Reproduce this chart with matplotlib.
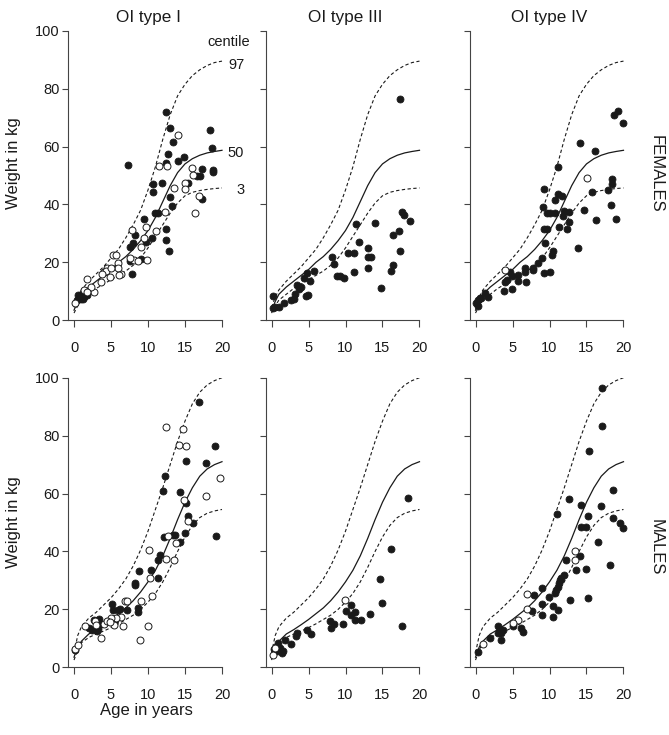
import matplotlib
matplotlib.use('Agg')
import matplotlib.pyplot as plt
import numpy as np

plt.rcParams['font.family'] = ['Liberation Sans', 'DejaVu Sans']

# reference centiles (age in years -> weight in kg)
cent_age = [0, 0.5, 1, 2, 3, 4, 5, 6, 7, 8, 9, 10, 11, 12, 13, 14, 15, 16, 17, 18, 19, 20]
fem_p3 = [2.5, 5, 7, 9, 11, 12.5, 14, 15.5, 17, 19, 21.5, 25, 29, 33, 37, 40.5, 43, 44.2, 44.8, 45.2, 45.5, 45.7]
fem_p50 = [3.5, 6.5, 9, 11.5, 13.5, 15.5, 17.5, 20, 22, 24.5, 27.5, 31, 35.5, 41, 46.5, 51, 54, 55.8, 57, 57.8, 58.3, 58.7]
fem_p97 = [4.5, 8, 10.5, 13.5, 16, 18.5, 21.5, 24.5, 28.5, 33, 38, 45, 53, 62.5, 71, 77.5, 81.5, 84.5, 86.5, 88, 89, 89.5]
male_p3 = [2.5, 6, 8.5, 10.3, 11.5, 12.5, 13.7, 15, 16.5, 18, 20, 22.5, 25.5, 29.5, 34.5, 40, 45, 49, 51.7, 53.2, 54, 54.5]
male_p50 = [3.5, 7, 9, 11.5, 13, 14.7, 16.5, 18.5, 20.5, 23, 26, 29.5, 33.5, 38.5, 44.5, 51, 57, 62, 66, 68.5, 70, 71]
male_p97 = [5, 11, 14, 17, 19, 21.5, 24, 27, 30.5, 35, 40.5, 47, 54.5, 62, 70, 78, 85, 91, 95, 97.5, 99, 100]

# females, OI type I
fI_filled = [(0.4, 7.0), (0.7, 8.1), (0.9, 7.5), (1.1, 9.2), (1.4, 8.1), (1.7, 8.7), (0.6, 8.8), (1.2, 7.3),
             (7.3, 53.6), (12.5, 72.0), (13.0, 66.5), (13.4, 61.7), (18.4, 65.7), (18.6, 59.6), (12.7, 57.4),
             (14.8, 56.5), (14.1, 55.0), (12.5, 54.4), (17.3, 52.2), (18.8, 51.9), (18.8, 51.1), (16.6, 49.9),
             (17.0, 49.9), (15.4, 47.3), (10.7, 47.1), (11.9, 47.3), (10.7, 44.3), (17.3, 41.9), (13.0, 42.6),
             (13.3, 39.4), (10.9, 37.0), (11.4, 37.0), (12.5, 31.4), (9.4, 35.1), (8.2, 29.3), (10.5, 28.4),
             (9.7, 27.2), (7.5, 25.4), (8.0, 26.8), (12.5, 27.7), (12.8, 23.9), (7.5, 20.6), (9.1, 21.1), (7.9, 16.0)]
fI_open = [(14.1, 63.9), (11.5, 53.3), (12.6, 53.3), (16.0, 52.5), (16.1, 50.2), (15.0, 47.5), (15.0, 45.2),
           (13.5, 45.8), (16.9, 43.0), (16.4, 36.9), (12.3, 37.4), (9.7, 32.2), (7.8, 31.2), (11.1, 31.0),
           (9.4, 28.4), (9.1, 25.2), (8.1, 20.8), (8.7, 20.5), (9.8, 20.8), (5.3, 22.6), (5.7, 22.6), (5.9, 19.9),
           (7.5, 21.6), (6.3, 16.0), (5.9, 18.0), (4.5, 18.0), (4.0, 16.8), (4.3, 17.1), (4.9, 14.8), (3.6, 13.2),
           (1.8, 14.2), (2.7, 9.6), (2.3, 11.6), (0.2, 6.0), (1.3, 10.4), (1.8, 9.8), (6.1, 15.6), (5.0, 17.9),
           (3.8, 16.1)]

# females, OI type III
fIII_filled = [(17.3, 76.3), (17.6, 37.3), (17.9, 36.4), (18.7, 34.3), (17.2, 31.0), (16.4, 29.5), (17.3, 23.9),
               (16.4, 19.1), (16.1, 17.1), (14.8, 11.0), (14.0, 33.5), (11.4, 33.3), (11.8, 27.2), (13.1, 24.9),
               (13.1, 22.0), (13.5, 22.0), (13.1, 18.2), (10.4, 23.1), (11.1, 23.4), (11.1, 16.6), (8.2, 22.0),
               (8.5, 19.3), (8.8, 15.3), (9.3, 15.3), (9.8, 14.5), (5.7, 17.0), (4.8, 16.5), (5.2, 13.7), (4.4, 14.5),
               (3.5, 12.2), (4.0, 11.4), (3.7, 10.7), (3.2, 9.0), (4.6, 8.4), (4.9, 8.7), (2.6, 7.0), (1.7, 5.9),
               (1.0, 4.5), (0.2, 4.1), (0.2, 8.4), (0.45, 4.7), (3.0, 7.4)]
fIII_open = []

# females, OI type IV
fIV_filled = [(19.2, 72.3), (18.7, 70.9), (20.0, 68.0), (14.1, 61.1), (16.2, 58.6), (11.2, 53.0), (18.4, 48.8),
              (18.4, 47.1), (17.9, 45.0), (15.8, 44.2), (18.3, 39.8), (19.0, 35.0), (16.3, 34.6), (14.7, 38.1),
              (13.8, 25.1), (9.3, 45.3), (10.7, 41.5), (11.2, 43.5), (11.7, 43.0), (9.1, 39.2), (9.7, 36.9),
              (10.0, 36.9), (10.8, 36.9), (11.9, 37.7), (12.7, 37.5), (11.8, 36.0), (11.3, 32.3), (12.3, 31.6),
              (12.7, 34.1), (9.3, 31.4), (9.7, 31.4), (9.4, 26.6), (10.5, 24.0), (10.3, 22.6), (9.0, 21.4),
              (8.4, 19.7), (7.8, 17.4), (6.7, 18.0), (6.7, 16.8), (6.8, 13.1), (5.8, 15.6), (5.8, 13.7),
              (4.9, 15.4), (4.6, 16.8), (4.0, 13.3), (4.3, 13.9), (4.9, 10.9), (3.8, 10.1), (9.3, 16.5),
              (10.0, 16.6), (7.8, 18.0), (1.7, 8.2), (1.3, 9.3), (0.6, 7.8), (0.3, 7.0), (0.4, 4.9), (0.1, 5.9),
              (0.8, 7.6)]
fIV_open = [(15.1, 49.0), (4.0, 17.4)]

# males, OI type I
mI_filled = [(16.9, 91.5), (19.0, 76.4), (15.2, 71.3), (17.8, 70.5), (12.3, 66.1), (12.0, 60.9), (14.3, 60.5),
             (15.2, 56.7), (15.4, 52.1), (16.1, 49.8), (15.0, 46.3), (14.3, 43.4), (13.4, 45.7), (13.7, 45.7),
             (12.1, 44.9), (19.2, 45.4), (11.6, 38.9), (11.3, 37.1), (10.4, 33.7), (11.4, 30.8), (8.8, 33.1),
             (8.2, 29.1), (8.3, 28.5), (5.2, 22.0), (5.3, 19.9), (5.9, 19.9), (6.2, 20.1), (7.2, 19.9), (8.6, 20.5),
             (8.7, 19.1), (5.5, 16.3), (2.7, 16.4), (3.4, 16.7), (2.0, 13.6), (3.2, 13.2), (3.1, 12.4),
             (2.4, 13.0), (3.6, 15.0), (0.1, 6.0)]
mI_open = [(12.5, 83.1), (14.7, 82.2), (14.2, 76.8), (15.1, 76.4), (19.7, 65.3), (17.8, 59.0), (14.8, 57.8),
           (15.4, 50.6), (13.8, 42.9), (12.7, 45.4), (13.5, 36.9), (12.5, 37.4), (10.1, 40.6), (10.3, 30.8),
           (10.6, 24.5), (10.0, 14.1), (8.9, 9.3), (9.1, 23.0), (6.9, 22.8), (7.2, 22.8), (6.3, 17.4),
           (5.7, 17.0), (5.0, 17.0), (6.6, 14.1), (5.4, 14.7), (3.6, 10.1), (1.5, 14.4), (2.8, 16.0),
           (4.0, 15.0), (4.5, 16.0), (3.0, 14.5), (4.8, 15.6), (0.1, 6.3), (0.5, 7.8)]

# males, OI type III
mIII_filled = [(18.5, 58.6), (16.2, 40.9), (14.6, 30.5), (15.0, 22.2), (17.7, 14.1), (13.3, 18.5), (12.1, 16.4),
               (11.3, 16.4), (11.3, 19.0), (10.7, 21.6), (10.7, 18.2), (10.1, 19.3), (9.6, 14.9), (7.9, 16.1),
               (8.4, 15.1), (8.0, 13.4), (4.8, 12.8), (5.3, 11.6), (3.4, 11.8), (3.3, 10.7), (2.6, 8.2),
               (1.8, 9.5), (1.6, 5.5), (1.1, 6.5), (0.7, 7.5), (0.7, 5.8), (1.4, 5.0), (0.9, 8.4), (0.3, 6.3)]
mIII_open = [(9.9, 23.3), (0.2, 4.4), (0.5, 6.7)]

# males, OI type IV
mIV_filled = [(17.1, 96.3), (17.1, 83.3), (15.4, 74.7), (18.6, 61.3), (12.6, 58.0), (14.2, 56.1), (17.0, 55.7),
              (11.0, 53.0), (15.2, 52.3), (18.6, 51.5), (19.5, 50.0), (19.9, 48.0), (14.2, 48.6), (15.0, 48.6),
              (16.5, 43.1), (18.2, 35.4), (14.1, 38.3), (12.2, 37.1), (13.6, 33.7), (14.9, 34.0), (15.2, 24.1),
              (12.8, 23.3), (11.9, 32.0), (11.6, 31.0), (11.4, 30.0), (11.3, 29.0), (11.1, 27.8), (10.9, 26.7),
              (10.7, 25.6), (9.9, 24.3), (9.0, 27.4), (7.9, 25.1), (9.0, 21.8), (10.5, 21.0), (11.1, 19.9),
              (10.5, 17.4), (9.0, 18.2), (7.6, 19.3), (5.1, 14.1), (6.1, 13.6), (6.4, 12.1), (3.1, 14.1),
              (3.3, 13.0), (3.7, 12.8), (3.5, 11.9), (3.0, 11.7), (3.4, 9.3), (1.9, 10.0), (0.4, 5.2)]
mIV_open = [(13.4, 40.0), (13.4, 37.1), (7.0, 25.4), (7.0, 20.2), (5.8, 16.4), (5.1, 15.3), (1.0, 8.0)]

col_titles = ['OI type I', 'OI type III', 'OI type IV']
row_labels = ['FEMALES', 'MALES']
yticks = [0, 20, 40, 60, 80, 100]
xticks = [0, 5, 10, 15, 20]

panels = [[(fI_filled, fI_open), (fIII_filled, fIII_open), (fIV_filled, fIV_open)],
          [(mI_filled, mI_open), (mIII_filled, mIII_open), (mIV_filled, mIV_open)]]
curves = [(fem_p3, fem_p50, fem_p97), (male_p3, male_p50, male_p97)]

W, H = 669, 735
fig = plt.figure(figsize=(W / 100, H / 100), dpi=100)
ink = '#1a1a1a'
axc = '#444444'

col_left = [68.1, 265.6, 469.6]   # px
row_top = [30.7, 377.7]           # px
ax_w, ax_h = 159.8, 289.6

for r in range(2):
    for c in range(3):
        ax = fig.add_axes([col_left[c] / W, 1 - (row_top[r] + ax_h) / H, ax_w / W, ax_h / H])
        ax.set_xlim(-0.8, 20.8)
        ax.set_ylim(0, 100)
        ax.patch.set_alpha(0)
        for s in ['top', 'right']:
            ax.spines[s].set_visible(False)
        ax.spines['left'].set_bounds(0, 100)
        ax.spines['bottom'].set_bounds(-0.8, 20)
        for s in ['left', 'bottom']:
            ax.spines[s].set_color(axc)
            ax.spines[s].set_linewidth(0.8)
        ax.set_xticks(xticks)
        ax.set_yticks(yticks)
        ax.tick_params(axis='x', length=5, width=0.8, color=axc, pad=10, labelsize=10.5, labelcolor=ink)
        ax.tick_params(axis='y', length=4, width=0.8, color=axc, pad=2, labelsize=10.5, labelcolor=ink)
        if c > 0:
            ax.set_yticklabels([])

        p3, p50, p97 = curves[r]
        ax.plot(cent_age, p97, color=ink, lw=0.8, ls=(0, (3, 2.2)))
        ax.plot(cent_age, p50, color=ink, lw=0.9)
        ax.plot(cent_age, p3, color=ink, lw=0.8, ls=(0, (3, 2.2)))

        filled, hollow = panels[r][c]
        if filled:
            fx, fy = zip(*filled)
            ax.plot(fx, fy, 'o', ms=5.0, mfc=ink, mec=ink, mew=0.6, clip_on=False)
        if hollow:
            ox, oy = zip(*hollow)
            ax.plot(ox, oy, 'o', ms=5.0, mfc='white', mec=ink, mew=0.7, clip_on=False)

        if r == 0:
            ax.set_title(col_titles[c], fontsize=12.3, color=ink, pad=6)
        if r == 0 and c == 0:
            ax.text(23.8, 96, 'centile', fontsize=10.5, color=ink, ha='right', va='center', clip_on=False)
            ax.text(23.0, 88.2, '97', fontsize=10.5, color=ink, ha='right', va='center', clip_on=False)
            ax.text(23.0, 57.8, '50', fontsize=10.5, color=ink, ha='right', va='center', clip_on=False)
            ax.text(23.0, 45.0, '3', fontsize=10.5, color=ink, ha='right', va='center', clip_on=False)

fig.text(14 / W, 1 - 163 / H, 'Weight in kg', rotation=90, fontsize=12, color=ink, ha='center', va='center')
fig.text(14 / W, 1 - 522 / H, 'Weight in kg', rotation=90, fontsize=12, color=ink, ha='center', va='center')
fig.text(146 / W, 1 - 710 / H, 'Age in years', fontsize=12, color=ink, ha='center', va='center')
fig.text(656 / W, 1 - 174 / H, row_labels[0], rotation=270, fontsize=12, color=ink, ha='center', va='center')
fig.text(656 / W, 1 - 547 / H, row_labels[1], rotation=270, fontsize=12, color=ink, ha='center', va='center')

fig.savefig('out.png', dpi=100)
